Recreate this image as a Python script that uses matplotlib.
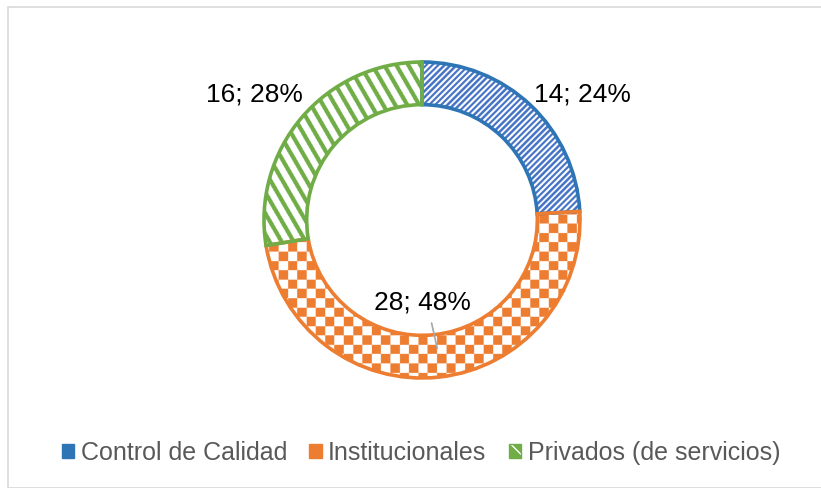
import numpy as np
import matplotlib.pyplot as plt
from matplotlib.colors import to_rgba
from matplotlib.patches import Patch, Rectangle

# data
categories = ['Control de Calidad', 'Institucionales', 'Privados (de servicios)']
counts = [14, 28, 16]
percents = ['24%', '48%', '28%']
edge_colors = ['#2E75B6', '#ED7D31', '#70AD47']
hatch_colors = ['#4472C4', '#ED7D31', '#70AD47']

plt.rcParams['font.family'] = ['Liberation Sans', 'DejaVu Sans']

W, H = 821, 488
fig = plt.figure(figsize=(W / 100, H / 100), dpi=100)
ax = fig.add_axes([0, 0, 1, 1])

# pixel geometry of the ring
cx, cy, R = 422, 220, 158
s = R


def set_hcolor(p, c):
    if hasattr(p, 'set_hatchcolor'):
        p.set_hatchcolor(c)
    else:
        p._hatch_color = to_rgba(c)


wedges, _ = ax.pie(counts, startangle=90, counterclock=False, radius=1.0,
                   wedgeprops=dict(width=0.27, linewidth=2.6))
for w, ec in zip(wedges, edge_colors):
    w.set_zorder(3)
    w.set_edgecolor(ec)
    w.set_facecolor('none')

# pattern images (pixel grid) clipped to each wedge
ext = 1.2
npx = int(2 * ext * s) * 2
g = (np.arange(npx) + 0.5) / npx * 2 * ext * s  # pixel coords
px, py = np.meshgrid(g, g)


def pattern_image(mask, color):
    img = np.ones((npx, npx, 3))
    img[mask] = np.array(to_rgba(color)[:3])
    return img


fine = ((px * 0.707 - py * 0.707) % 4.3) < 2.3
checker = ((np.floor(px / 9.3) + np.floor(py / 9.3)) % 2) == 1
stripes = ((px * 0.866 + py * 0.5) % 10.4) < 4.2
for idx, mask in enumerate([fine, checker, stripes]):
    im = ax.imshow(pattern_image(mask, hatch_colors[idx]),
                   extent=[-ext, ext, -ext, ext], origin='lower',
                   interpolation='antialiased', zorder=2)
    im.set_clip_path(wedges[idx])

ax.set_xlim(-cx / s, (W - cx) / s)
ax.set_ylim(-(H - cy) / s, cy / s)
ax.set_aspect('equal')
ax.axis('off')

# labels
label_pos = [(1.016, 0.797), (0.0, -0.519), (-1.06, 0.797)]
for (x, y), c, p in zip(label_pos, counts, percents):
    ax.text(x, y, f'{c}; {p}', fontsize=19, ha='center', va='center', zorder=5)
ax.annotate('', xy=(0.10, -0.83), xytext=(0.057, -0.635),
            arrowprops=dict(arrowstyle='-', color='#A6A6A6', lw=1.2), zorder=6)

# legend: filled squares with a white pattern
legend_hatch = ['/', '|', '\\']
handles = []
for ec, h in zip(edge_colors, legend_hatch):
    hp = Patch(facecolor=ec, edgecolor=ec, hatch=h, linewidth=1.0)
    set_hcolor(hp, 'white')
    handles.append(hp)
fig.legend(handles, categories, loc='center', bbox_to_anchor=(421 / W, 1 - 453 / H),
           ncol=3, frameon=False, fontsize=18, handlelength=0.5, handleheight=0.5,
           handletextpad=0.25, columnspacing=0.9, labelcolor='#595959')

# chart border
fig.patches.append(Rectangle((8 / W, 0), 1, 1 - 7 / H, transform=fig.transFigure,
                             fill=False, edgecolor='#D9D9D9', lw=1.2))

fig.savefig('out.png', dpi=100)
